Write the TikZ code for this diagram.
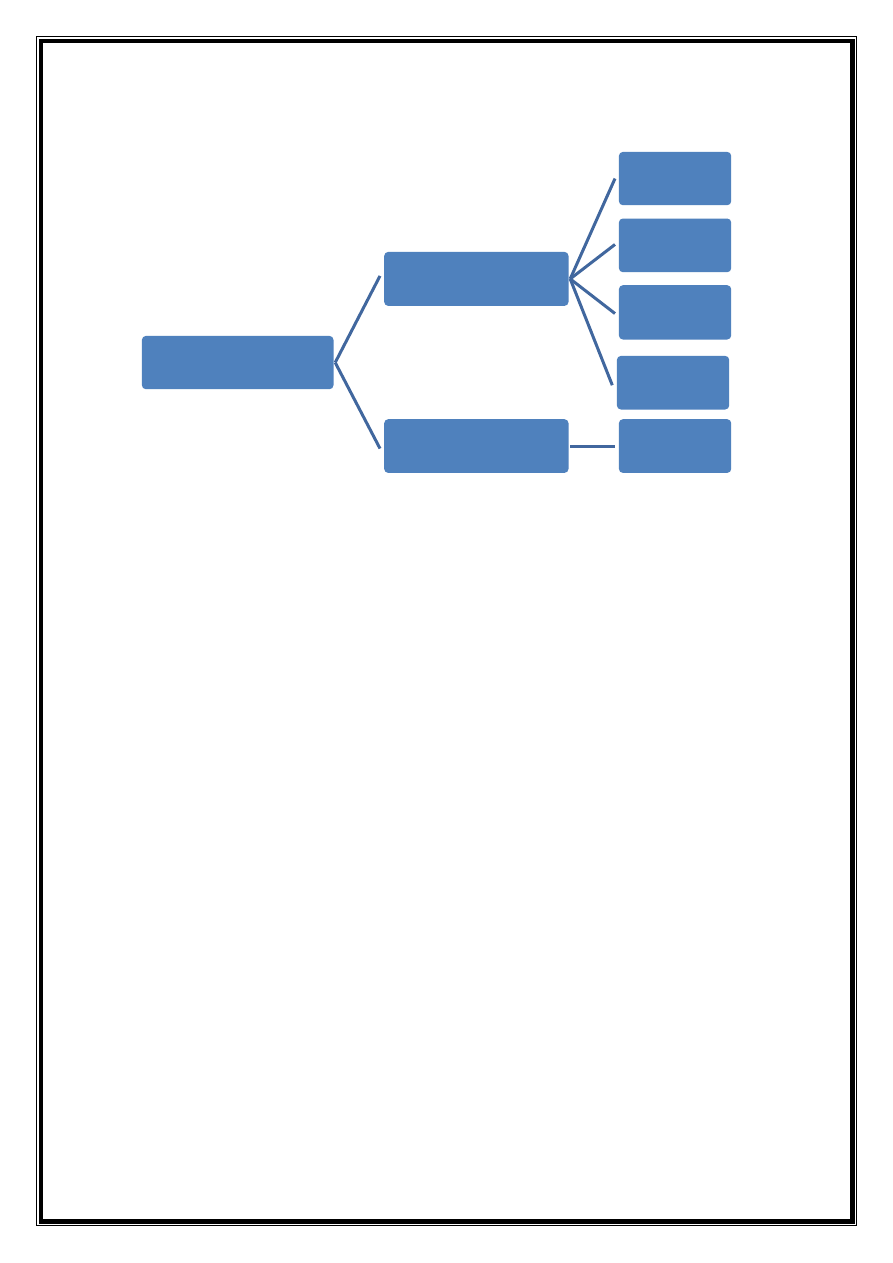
\documentclass[tikz,border=0pt]{standalone}
\definecolor{boxfill}{HTML}{4F81BD}
\definecolor{linkcol}{HTML}{41679E}
\begin{document}
\begin{tikzpicture}[x=1pt,y=-1pt,
  blk/.style={fill=boxfill,draw=none,rounded corners=4pt,inner sep=0pt,anchor=north west},
  link/.style={draw=linkcol,line width=3pt}]
\useasboundingbox (0,0) rectangle (893,1263);
\fill[white] (0,0) rectangle (893,1263);
% page border
\draw[line width=1.2pt] (36.5,36.5) rectangle (856.5,1225.5);
\draw[line width=4.6pt] (41,41) rectangle (852.5,1221.5);
% boxes
\node[blk,minimum width=191.6pt,minimum height=53.3pt] (root) at (141.7,335.7) {};
\node[blk,minimum width=184.3pt,minimum height=54pt] (mida) at (384,251.7) {};
\node[blk,minimum width=184.3pt,minimum height=53.7pt] (midb) at (384,419) {};
\node[blk,minimum width=112.3pt,minimum height=53.3pt] (la) at (618.7,151.7) {};
\node[blk,minimum width=112.3pt,minimum height=53.7pt] (lb) at (618.7,218.3) {};
\node[blk,minimum width=112.3pt,minimum height=54.3pt] (lc) at (618.7,285) {};
\node[blk,minimum width=112.3pt,minimum height=53.6pt] (ld) at (616.7,355.7) {};
\node[blk,minimum width=112.3pt,minimum height=53.7pt] (le) at (618.7,419) {};
% connectors
\coordinate (ra) at ([xshift=1.5pt]root.east);
\coordinate (ma) at ([xshift=1.5pt]mida.east);
\draw[link] (ra) -- ([xshift=-4pt,yshift=3pt]mida.west);
\draw[link] (ra) -- ([xshift=-4pt,yshift=-2.5pt]midb.west);
\draw[link] (ma) -- ([xshift=-3.7pt]la.west);
\draw[link] (ma) -- ([xshift=-3.7pt,yshift=0.9pt]lb.west);
\draw[link] (ma) -- ([xshift=-3.7pt,yshift=-1.2pt]lc.west);
\draw[link] (ma) -- ([xshift=-4.4pt,yshift=-2.5pt]ld.west);
\draw[link] ([xshift=1.5pt,yshift=-0.9pt]midb.east) -- ([xshift=-3.7pt,yshift=-0.9pt]le.west);
\end{tikzpicture}
\end{document}
